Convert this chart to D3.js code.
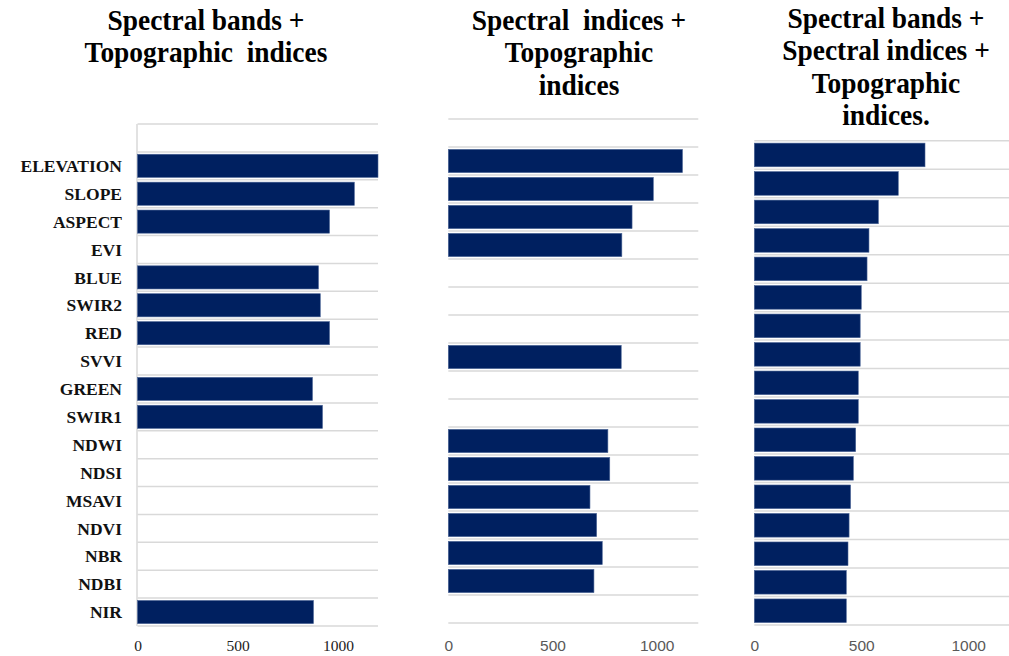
<!DOCTYPE html>
<html>
<head>
<meta charset="utf-8">
<script src="https://cdn.jsdelivr.net/npm/d3@7"></script>
<style>
  body { margin: 0; background: #fff; }
  .title { font-family: "Liberation Serif", "Times New Roman", serif; font-weight: bold; font-size: 29.5px; fill: #000; }
  .cat { font-family: "Liberation Serif", "Times New Roman", serif; font-weight: bold; font-size: 17.5px; fill: #111; }
</style>
</head>
<body>
<div class="container"></div>
<script>
// feature names (top row of each of the first two panels is left empty)
var categories = ['ELEVATION', 'SLOPE', 'ASPECT', 'EVI', 'BLUE', 'SWIR2', 'RED', 'SVVI',
  'GREEN', 'SWIR1', 'NDWI', 'NDSI', 'MSAVI', 'NDVI', 'NBR', 'NDBI', 'NIR'];

// Spectral bands + Topographic indices
var bandsTopo = [1200, 1082, 958, null, 903, 912, 958, null, 873, 923, null, null, null, null, null, null, 878];
// Spectral indices + Topographic indices
var indicesTopo = [1124, 984, 882, 833, null, null, null, 830, null, null, 766, 775, 680, 712, 739, 699, null];
// all three groups, ranked (no labels in the picture)
var allFeatures = [798, 673, 580, 536, 527, 500, 495, 495, 486, 486, 474, 463, 450, 443, 438, 430, 430];

var xTicks = [0, 500, 1000];
var XMAX = 1200;

var titles = [
  ['Spectral bands +', 'Topographic  indices'],
  ['Spectral  indices +', 'Topographic', 'indices'],
  ['Spectral bands +', 'Spectral indices +', 'Topographic', 'indices.']
];

const WIDTH = 1009;
const HEIGHT = 656;
const BAR = '#002060';
const GRID = '#d9d9d9';

var svg = d3.select('.container').append('svg')
  .attr('width', WIDTH)
  .attr('height', HEIGHT);

var panels = [
  { data: bandsTopo, x0: 137.5, x1: 378, y0: 124, y1: 626, empty: true, labels: true, axisLine: true,
    tickFont: '"Liberation Serif", serif', tickColor: '#222', titleX: 206, titleY: 30 },
  { data: indicesTopo, x0: 448.3, x1: 698.3, y0: 119, y1: 623, empty: true, labels: false, axisLine: false,
    tickFont: '"Liberation Sans", Arial, sans-serif', tickColor: '#595959', titleX: 579, titleY: 30 },
  { data: allFeatures, x0: 754.3, x1: 1011, y0: 140.7, y1: 625, empty: false, labels: false, axisLine: false,
    tickFont: '"Liberation Sans", Arial, sans-serif', tickColor: '#595959', titleX: 886, titleY: 28 }
];

var drawPanel = function (p, idx) {
  var keys = p.data.map(function (d, i) { return idx < 2 ? categories[i] : 'r' + i; });
  if (p.empty) keys = [''].concat(keys);

  var y = d3.scaleBand().domain(keys).range([p.y0, p.y1]).paddingInner(0.17).paddingOuter(0.085);
  var x = d3.scaleLinear().domain([0, XMAX]).range([p.x0, p.x1]);

  var g = svg.append('g');

  // horizontal gridlines on row borders
  var borders = d3.range(keys.length + 1).map(function (i) { return p.y0 + i * (p.y1 - p.y0) / keys.length; });
  g.selectAll('.grid').data(borders).enter().append('line')
    .attr('x1', p.x0).attr('x2', p.x1)
    .attr('y1', function (d) { return d; }).attr('y2', function (d) { return d; })
    .attr('stroke', GRID).attr('stroke-width', 1.5);

  if (p.axisLine) {
    g.append('line')
      .attr('x1', p.x0 - 0.5).attr('x2', p.x0 - 0.5)
      .attr('y1', p.y0).attr('y2', p.y1)
      .attr('stroke', GRID).attr('stroke-width', 1.5);
  }

  var rows = p.data.map(function (v, i) { return { key: p.empty ? keys[i + 1] : keys[i], v: v }; })
    .filter(function (d) { return d.v != null; });

  g.selectAll('.bar').data(rows).enter().append('rect')
    .attr('x', x(0))
    .attr('y', function (d) { return y(d.key); })
    .attr('width', function (d) { return x(d.v) - x(0); })
    .attr('height', y.bandwidth())
    .attr('fill', BAR)
    .attr('stroke', '#4b6596')
    .attr('stroke-width', 0.6);

  if (p.labels) {
    g.selectAll('.cat').data(categories).enter().append('text')
      .attr('class', 'cat')
      .attr('x', 122)
      .attr('y', function (d) { return y(d) + y.bandwidth() / 2; })
      .attr('dy', '0.35em')
      .attr('text-anchor', 'end')
      .text(function (d) { return d; });
  }

  var axis = d3.axisBottom(x).tickValues(xTicks).tickSize(0).tickPadding(0).tickFormat(d3.format('d'));
  var ax = g.append('g')
    .attr('transform', 'translate(0,' + 640 + ')')
    .call(axis);
  ax.select('.domain').remove();
  ax.selectAll('text')
    .attr('dy', '0.71em')
    .style('font-family', p.tickFont)
    .style('font-size', '15.5px')
    .attr('fill', p.tickColor);

  // title, slightly condensed like the original
  var t = svg.append('text').attr('class', 'title')
    .attr('transform', 'translate(' + p.titleX + ',0) scale(0.93,1)')
    .attr('text-anchor', 'middle')
    .style('white-space', 'pre');
  titles[idx].forEach(function (line, j) {
    t.append('tspan').attr('x', 0).attr('y', p.titleY + j * 32.3).text(line);
  });
};

panels.forEach(drawPanel);
</script>
</body>
</html>
